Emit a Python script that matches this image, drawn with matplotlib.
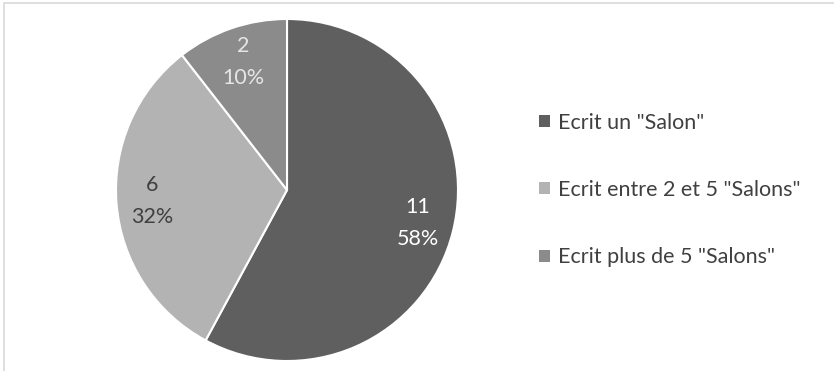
import matplotlib
matplotlib.use("Agg")
import matplotlib.pyplot as plt
from matplotlib.patches import Rectangle, Patch

categories = ['Ecrit un "Salon"', 'Ecrit entre 2 et 5 "Salons"', 'Ecrit plus de 5 "Salons"']
counts = [11, 6, 2]
percents = [58, 32, 10]
colors = ['#5f5f5f', '#b3b3b3', '#8b8b8b']
label_colors = ['#ffffff', '#404040', '#e6e6e6']

plt.rcParams['font.family'] = ['Lato', 'DejaVu Sans']

fig = plt.figure(figsize=(8.34, 3.71), dpi=100)

# thin grey frame along the top and left edges
fig.patches.append(Rectangle((4 / 834, -0.1), 1.2, 1.1 - 3 / 371,
                             transform=fig.transFigure, fill=False,
                             edgecolor='#d9d9d9', linewidth=1.2))

ax = fig.add_axes([116 / 834, 10 / 371, 342 / 834, 342 / 371])
wedges, texts = ax.pie(counts, colors=colors, startangle=90, counterclock=False,
                       wedgeprops=dict(edgecolor='white', linewidth=1.5),
                       labels=[f'{c}\n{p}%' for c, p in zip(counts, percents)],
                       labeldistance=0.79,
                       textprops=dict(fontsize=15.5, ha='center', va='center',
                                      linespacing=1.75))
for t, c in zip(texts, label_colors):
    t.set_color(c)
    t.set_horizontalalignment('center')
ax.set_xlim(-1, 1)
ax.set_ylim(-1, 1)
ax.set_aspect('equal')

handles = [Patch(facecolor=c, edgecolor='none') for c in colors]
leg = fig.legend(handles, categories, loc='center left',
                 bbox_to_anchor=(539 / 834, (371 - 190) / 371), frameon=False,
                 fontsize=15.5, labelcolor='#404040',
                 handlelength=0.5, handleheight=0.5, handletextpad=0.4,
                 labelspacing=2.2, borderpad=0, borderaxespad=0)

fig.savefig('out.png', dpi=100)
